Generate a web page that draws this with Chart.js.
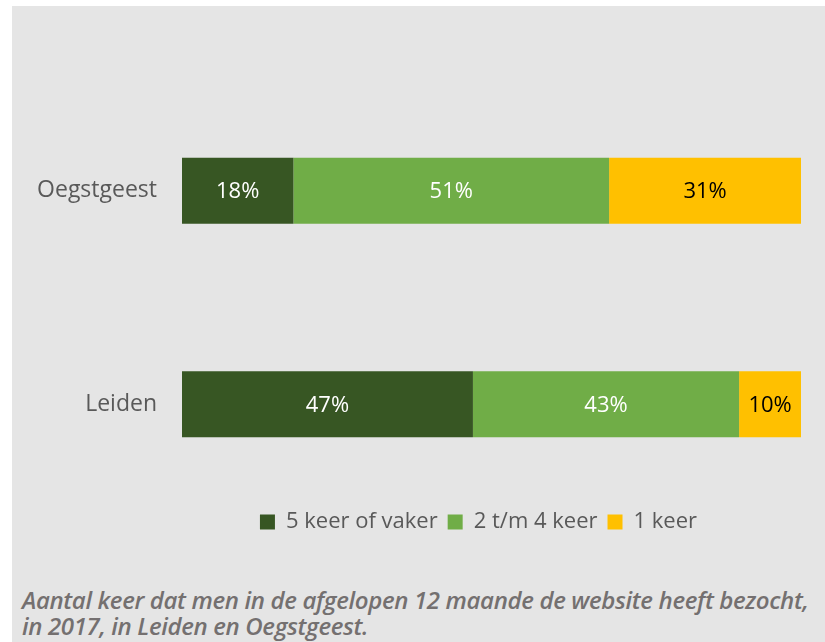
<!DOCTYPE html>
<html>
<head>
<meta charset="utf-8">
<script src="https://cdn.jsdelivr.net/npm/chart.js@4"></script>
<style>
  html, body { margin: 0; padding: 0; background: #ffffff; }
  #panel { position: absolute; left: 12px; top: 6px; width: 813px; height: 636px; background: #e5e5e5; }
  #wrap { position: absolute; left: 0; top: 0; width: 813px; height: 560px; }
  #caption { position: absolute; left: 10px; top: 581px; width: 803px; font-family: "Open Sans", sans-serif;
    font-style: italic; font-weight: 600; font-size: 24px; line-height: 26px; color: #747070; letter-spacing: -0.35px; white-space: nowrap; }
</style>
</head>
<body>
<div id="panel">
  <div id="wrap"><canvas id="c"></canvas></div>
  <div id="caption">Aantal keer dat men in de afgelopen 12 maande de website heeft bezocht,<br>in 2017, in Leiden en Oegstgeest.</div>
</div>
<script>
const categories = ["Oegstgeest", "Leiden"];
const seriesNames = ["5 keer of vaker", "2 t/m 4 keer", "1 keer"];
const fiveOrMore = [18, 47];
const twoToFour = [51, 43];
const once = [31, 10];
const seriesColors = ["#375623", "#70ad47", "#ffc000"];
const labelColors = ["#ffffff", "#ffffff", "#000000"];

const FONT = '"Open Sans", sans-serif';

const valueLabels = {
  id: 'valueLabels',
  afterDatasetsDraw(chart) {
    const ctx = chart.ctx;
    ctx.save();
    ctx.font = '22px ' + FONT;
    ctx.textAlign = 'center';
    ctx.textBaseline = 'middle';
    chart.data.datasets.forEach((ds, i) => {
      const meta = chart.getDatasetMeta(i);
      meta.data.forEach((bar, j) => {
        const p = bar.getProps(['x', 'y', 'base'], true);
        ctx.fillStyle = labelColors[i];
        ctx.fillText(ds.data[j] + '%', (p.x + p.base) / 2, p.y + 1);
      });
    });
    ctx.restore();
  }
};

// place the legend just under the bars, centred a little right of the canvas centre
const legendShift = {
  id: 'legendShift',
  afterLayout(chart) {
    const lg = chart.legend;
    if (lg) {
      const b = chart.chartArea.bottom;
      const d = lg.top - (b - 10);
      lg.top -= d; lg.bottom -= d;
      lg.left += 72; lg.right += 72;
    }
  }
};

new Chart(document.getElementById('c'), {
  type: 'bar',
  data: {
    labels: categories,
    datasets: [
      { label: seriesNames[0], data: fiveOrMore, backgroundColor: seriesColors[0] },
      { label: seriesNames[1], data: twoToFour, backgroundColor: seriesColors[1] },
      { label: seriesNames[2], data: once, backgroundColor: seriesColors[2] }
    ]
  },
  options: {
    indexAxis: 'y',
    responsive: true,
    maintainAspectRatio: false,
    animation: false,
    layout: { padding: { top: 78, right: 24, bottom: 13, left: 0 } },
    datasets: { bar: { barPercentage: 0.62, categoryPercentage: 0.5, borderWidth: 0 } },
    scales: {
      x: { stacked: true, min: 0, max: 100, display: false },
      y: {
        stacked: true,
        grid: { display: false, drawTicks: false },
        border: { display: false },
        ticks: { padding: 25, color: '#595959', font: { family: FONT, size: 23 } },
        afterFit(s) { s.width = 170; }
      }
    },
    plugins: {
      legend: {
        position: 'bottom',
        labels: { boxWidth: 15, boxHeight: 15, padding: 10, color: '#595959', font: { family: FONT, size: 22 } }
      },
      tooltip: { enabled: false }
    }
  },
  plugins: [valueLabels, legendShift]
});
</script>
</body>
</html>
